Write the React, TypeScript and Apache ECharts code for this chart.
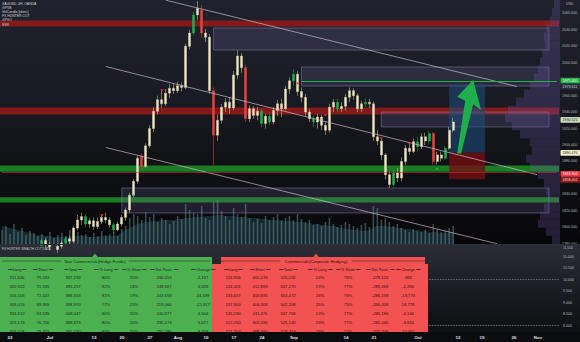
import React, { useEffect, useRef } from "react";
import * as echarts from "echarts";

// ---------- data ----------
// candle: [open, close, low, high]
const candles: number[][] = [
  [1758, 1762, 1754, 1766], [1762, 1765, 1758, 1769], [1765, 1760, 1756, 1768], [1760, 1768, 1757, 1771],
  [1768, 1771, 1764, 1774], [1771, 1766, 1762, 1774], [1766, 1772, 1763, 1775], [1772, 1769, 1765, 1776],
  [1769, 1774, 1766, 1777], [1774, 1778, 1770, 1779], [1778, 1784, 1775, 1787], [1784, 1779, 1775, 1786],
  [1779, 1776, 1772, 1782], [1776, 1773, 1769, 1779], [1773, 1777, 1769, 1780], [1777, 1781, 1774, 1784],
  [1781, 1786, 1778, 1789], [1786, 1783, 1779, 1790], [1783, 1799, 1781, 1802], [1799, 1809, 1796, 1815],
  [1809, 1813, 1803, 1818], [1813, 1804, 1800, 1816], [1804, 1808, 1799, 1811], [1808, 1801, 1797, 1812],
  [1801, 1807, 1798, 1812], [1807, 1812, 1804, 1816], [1812, 1809, 1805, 1818], [1809, 1803, 1800, 1812],
  [1803, 1797, 1793, 1806], [1797, 1804, 1795, 1807], [1804, 1812, 1801, 1815], [1812, 1821, 1808, 1824],
  [1821, 1839, 1818, 1842], [1839, 1856, 1836, 1859], [1856, 1884, 1853, 1887], [1887, 1874, 1870, 1890],
  [1874, 1899, 1872, 1902], [1899, 1920, 1896, 1924], [1920, 1941, 1916, 1946], [1941, 1955, 1937, 1960],
  [1955, 1950, 1945, 1966], [1950, 1963, 1947, 1968], [1963, 1969, 1957, 1974], [1969, 1966, 1962, 1975],
  [1966, 1972, 1963, 1977], [1972, 1970, 1965, 1976], [1970, 2020, 1968, 2023], [2020, 2036, 2016, 2040],
  [2036, 2058, 2033, 2062], [2058, 2066, 2052, 2075], [2064, 2036, 2030, 2070], [2036, 2031, 2025, 2041],
  [2031, 1966, 1962, 2035], [1966, 1912, 1876, 1970], [1912, 1930, 1905, 1937], [1930, 1946, 1926, 1950],
  [1946, 1952, 1940, 1957], [1952, 1945, 1938, 1958], [1945, 1985, 1942, 1990], [1985, 2008, 1980, 2015],
  [2008, 1994, 1988, 2012], [1994, 1932, 1928, 1998], [1932, 1944, 1928, 1948], [1944, 1936, 1932, 1947],
  [1936, 1941, 1930, 1946], [1941, 1926, 1922, 1944], [1926, 1935, 1920, 1938], [1935, 1928, 1924, 1940],
  [1928, 1942, 1925, 1946], [1942, 1950, 1935, 1955], [1950, 1944, 1934, 1956], [1944, 1968, 1942, 1972],
  [1968, 1978, 1962, 1982], [1978, 1986, 1972, 1992], [1986, 1965, 1960, 1990], [1965, 1958, 1952, 1970],
  [1958, 1940, 1935, 1962], [1940, 1932, 1928, 1944], [1932, 1928, 1922, 1936], [1928, 1934, 1920, 1938],
  [1934, 1924, 1918, 1937], [1924, 1918, 1912, 1928], [1918, 1946, 1915, 1950], [1946, 1952, 1940, 1956],
  [1952, 1944, 1940, 1956], [1944, 1947, 1940, 1952], [1947, 1958, 1942, 1962], [1958, 1966, 1952, 1970],
  [1966, 1960, 1955, 1969], [1960, 1944, 1940, 1963], [1944, 1950, 1940, 1954], [1950, 1952, 1946, 1957],
  [1952, 1950, 1945, 1956], [1950, 1910, 1905, 1953], [1910, 1905, 1900, 1918], [1905, 1888, 1882, 1908],
  [1888, 1864, 1858, 1890], [1864, 1852, 1848, 1868], [1852, 1866, 1849, 1870], [1866, 1860, 1855, 1872],
  [1860, 1880, 1856, 1885], [1880, 1896, 1876, 1900], [1896, 1892, 1888, 1902], [1892, 1904, 1890, 1908],
  [1904, 1898, 1892, 1910], [1898, 1910, 1895, 1914], [1910, 1905, 1900, 1915], [1905, 1914, 1902, 1917],
  [1914, 1880, 1876, 1916], [1880, 1888, 1876, 1892], [1888, 1884, 1880, 1892], [1884, 1896, 1882, 1899],
  [1896, 1918, 1894, 1922], [1918, 1928, 1915, 1933],
];
const greenBars = [10, 16, 21, 28, 48, 65, 67, 73, 78, 84, 91, 98, 104, 107, 111];
const redBars = [35, 50, 53, 61, 108];

const volumes = [
  14, 18, 10, 20, 12, 16, 9, 13, 11, 8,
  10, 7, 12, 6, 9, 11, 8, 14, 16, 12, 9, 10, 7, 11, 8, 13, 9, 10, 12, 8,
  15, 18, 26, 30, 28, 24, 32, 27, 30, 22, 26, 24, 20, 23, 28, 25, 40, 34, 31, 30, 38, 26, 24, 42,
  44, 33, 28, 24, 36, 30, 27, 40, 26, 22, 25, 21, 28, 24, 27, 30, 23, 26, 28, 24,
  30, 25, 22, 24, 19, 20, 18, 22, 26, 20, 17, 19, 22, 20, 18, 16, 19, 21, 17, 38,
  36, 24, 26, 22, 18, 20, 16, 14, 12, 15, 13, 12, 14, 11, 20, 15, 12, 13, 16, 18,
];
const volumeAvg = [
  18, 17, 16, 15, 14, 13, 12, 11, 10, 9,
  9, 8, 8, 7, 7, 7, 7, 7, 8, 8, 8, 8, 7, 7, 7, 8, 8, 8, 8, 9,
  12, 14, 16, 18, 20, 21, 22, 22, 23, 23, 24, 24, 24, 24, 25, 25, 26, 26, 27, 27, 27, 28, 28, 28,
  29, 29, 28, 28, 28, 27, 27, 27, 26, 26, 26, 25, 25, 24, 24, 24, 24, 23, 23, 22,
  22, 22, 21, 21, 20, 20, 19, 19, 18, 18, 17, 16, 15, 15, 14, 14, 13, 13, 14, 16,
  18, 18, 18, 17, 17, 16, 16, 15, 15, 14, 14, 13, 13, 12, 12, 12, 11, 11, 11, 11,
];

// volume profile (price bins of 10, from 1780 upwards)
const profileBins = Array.from({ length: 30 }, (_, i) => String(1780 + i * 10));
const profileVolume = [8, 14, 22, 20, 16, 12, 14, 16, 22, 30, 34, 28, 30, 40, 48, 55, 52, 44, 36, 30, 26, 22, 20, 18, 15, 16, 14, 10, 8, 6];

const dateLabels = ["22", "Jul", "13", "20", "27", "Aug", "10", "17", "24", "Sep", "14", "21", "Oct", "12", "19", "26", "Nov"];
const labelBars = [2, 12, 23, 30, 37, 44, 51, 58, 65, 73, 86, 93, 104, 114, 120, 128, 134];
const barCount = 140;

const priceTicks = [1780, 1800, 1820, 1840, 1880, 1900, 1920, 1940, 1960, 2000, 2020, 2040, 2060];
const cotTicks = [8, 8.5, 9, 9.5, 10, 10.5, 11];
const cotTopTick = 11.5;

// zones [low, high]
const resistanceZones = [[2044.1, 2051.4], [1937, 1945.5]];
const supportZones = [[1867.5, 1875], [1830, 1836.5]];
// boxes [startBar, endBar, top, bottom]
const boxes = [[53, 137, 2042.2, 2015.4], [75, 137, 1994.8, 1971.7], [95, 137, 1940.1, 1921.9], [30, 137, 1847.8, 1817.4]];
// trend lines [bar1, price1, bar2, price2]
const trendLines = [[41, 2076, 129, 1971], [26, 1995.4, 134, 1864], [26, 1897, 124, 1780]];
const targetLine = [75, 1978];
const stopLineLevel = 1867;
// long position tool
const entryBar = 112, exitBar = 121;
const entryPrice = 1890.47, targetPrice = 1973.611, stopPrice = 1858.401;
const arrowPoints = [[113.7, 1889.7], [116.3, 1953.8], [114.3, 1958.7], [118.3, 1979], [119.9, 1942.5], [117.8, 1949.4], [114.5, 1889.7]];

const redDots = [[40, 1966.8], [25, 1815], [74, 1975], [81, 1936.5], [95, 1908.5], [102, 1902.4]];
const greenDots = [[109, 1871], [33, 1839]];

const levelPrices = [1975.405, 1973.611, 1930.521, 1890.47, 1863.904, 1858.401];
const levelBg = ["#22b447", "#2a2e39", "#c9d9b8", "#f3efcc", "#f23645", "#8e1b1b"];
const levelFg = ["#ffffff", "#c9ccd4", "#1e1e1e", "#1e1e1e", "#ffffff", "#f3d6d6"];

const legendLines = ["XAUUSD, 4H, OANDA", "GPVB", "VolCandle [sbtnc]", "FX HUNTER COT", "GPVO", "SSR"];

const cotHeaders = ["Long", "Short", "Total", "% Long", "% Short", "Net Posit.", "Change"];
const nonCommRows = [
  ["311,646", "75,593", "387,239", "80%", "20%", "236,053", "2,197"],
  ["320,922", "72,335", "393,257", "82%", "18%", "248,587", "4,928"],
  ["316,106", "72,447", "388,553", "81%", "19%", "243,659", "24,599"],
  ["309,015", "89,955", "398,970", "77%", "23%", "219,060", "-21,917"],
  ["324,512", "83,535", "408,047", "80%", "20%", "240,977", "4,504"],
  ["313,173", "76,700", "389,873", "80%", "20%", "236,473", "5,677"],
  ["306,118", "75,321", "381,440", "80%", "20%", "230,796", "9,758"],
];
const commRows = [
  ["123,956", "402,076", "526,032", "24%", "76%", "-278,120", "-865"],
  ["124,401", "412,869", "537,270", "23%", "77%", "-288,468", "-2,290"],
  ["133,637", "419,835", "553,472", "24%", "76%", "-286,198", "-19,770"],
  ["137,900", "404,308", "542,208", "25%", "75%", "-266,408", "18,778"],
  ["126,290", "411,476", "537,766", "23%", "77%", "-285,186", "-4,146"],
  ["122,050", "403,090", "525,140", "23%", "77%", "-281,040", "-3,634"],
  ["121,254", "398,460", "519,714", "23%", "77%", "-277,206", "-10,961"],
];

// ---------- component ----------
const FONT = "'Liberation Sans', Arial, sans-serif";

export default function App() {
  const ref = useRef<HTMLDivElement>(null);
  useEffect(() => {
    if (!ref.current) return;
    const chart = echarts.init(ref.current, null, { renderer: "svg", width: 580, height: 342 });

    const categories = Array.from({ length: barCount }, (_, i) => {
      const k = labelBars.indexOf(i);
      return k >= 0 ? dateLabels[k] : "b" + i;
    });

    const CREAM = "#eee6c3";
    const candleData = candles.map((c, i) => {
      let col = "";
      if (greenBars.includes(i)) col = "#1fae4b";
      if (redBars.includes(i)) col = "#e8413c";
      return col
        ? { value: c, itemStyle: { color: col, color0: col, borderColor: col, borderColor0: col } }
        : { value: c };
    });

    const markAreas: any[] = [];
    resistanceZones.forEach((z) =>
      markAreas.push([{ yAxis: z[1], itemStyle: { color: "rgba(160,26,26,0.78)" } }, { yAxis: z[0] }])
    );
    supportZones.forEach((z) =>
      markAreas.push([{ yAxis: z[1], itemStyle: { color: "rgba(28,145,38,0.85)" } }, { yAxis: z[0] }])
    );
    boxes.forEach((b) =>
      markAreas.push([
        { coord: [b[0], b[2]], itemStyle: { color: "rgba(120,110,175,0.2)", borderColor: "rgba(160,150,200,0.5)", borderWidth: 0.8 } },
        { coord: [b[1], b[3]] },
      ])
    );
    markAreas.push([{ coord: [entryBar, targetPrice], itemStyle: { color: "rgba(30,78,125,0.55)" } }, { coord: [exitBar, entryPrice] }]);
    markAreas.push([{ coord: [entryBar, entryPrice], itemStyle: { color: "rgba(115,14,20,0.8)" } }, { coord: [exitBar, stopPrice] }]);

    const lines: any[] = trendLines.map((t) => [{ coord: [t[0], t[1]] }, { coord: [t[2], t[3]] }]);
    lines.push([
      { coord: [targetLine[0], targetLine[1]], lineStyle: { color: "#1fb23e", width: 1.1 } },
      { coord: [barCount - 1, targetLine[1]] },
    ]);
    lines.push([
      { coord: [0, stopLineLevel], lineStyle: { color: "rgba(220,50,50,0.8)", width: 0.7 } },
      { coord: [barCount - 1, stopLineLevel] },
    ]);

    const axisText = { color: "#b2b5be", fontSize: 3.6, fontFamily: FONT };

    chart.setOption({
      animation: false,
      backgroundColor: "transparent",
      textStyle: { fontFamily: FONT },
      grid: [
        { left: 0, top: 0, width: 560, height: 244 },
        { left: 0, top: 245, width: 560, height: 87 },
        { left: 500, top: -2.9, width: 60, height: 246.9 },
      ],
      xAxis: [
        { type: "category", gridIndex: 0, data: categories, show: false },
        {
          type: "category", gridIndex: 1, data: categories,
          axisLine: { show: false }, axisTick: { show: false }, splitLine: { show: false },
          axisLabel: { interval: (i: number) => labelBars.includes(i), color: "#e0e3eb", fontSize: 4.4, fontWeight: "bold", margin: 3.5, fontFamily: FONT },
        },
        { type: "value", gridIndex: 2, min: 0, max: 60, inverse: true, show: false },
      ],
      yAxis: [
        {
          type: "value", gridIndex: 0, min: 1779.7, max: 2076.2, position: "right",
          splitLine: { show: false }, axisLine: { show: false }, axisTick: { show: false },
          axisLabel: { ...axisText, margin: 3, customValues: priceTicks, formatter: (v: number) => v.toFixed(3) },
        },
        { type: "value", gridIndex: 0, min: 0, max: 244, show: false },
        {
          type: "value", gridIndex: 1, min: 7.726, max: 11.509, position: "right",
          splitLine: { show: false }, axisLine: { show: false }, axisTick: { show: false },
          axisLabel: { ...axisText, margin: 3, customValues: cotTicks, formatter: (v: number) => v.toFixed(3) },
        },
        { type: "category", gridIndex: 2, data: profileBins, show: false },
      ],
      series: [
        {
          type: "line", xAxisIndex: 0, yAxisIndex: 0, data: [], z: 1, silent: true,
          markArea: { silent: true, label: { show: false }, data: markAreas },
        },
        {
          type: "bar", xAxisIndex: 2, yAxisIndex: 3, data: profileVolume, z: 1, silent: true,
          barCategoryGap: "0%", itemStyle: { color: "rgba(110,90,175,0.27)" },
        },
        {
          type: "line", xAxisIndex: 0, yAxisIndex: 1, data: volumeAvg, z: 2, silent: true, smooth: true,
          showSymbol: false, lineStyle: { width: 0 }, areaStyle: { color: "rgba(38,88,98,0.6)" },
        },
        {
          type: "bar", xAxisIndex: 0, yAxisIndex: 1, data: volumes, z: 2, silent: true,
          barWidth: 1.6, itemStyle: { color: "rgba(120,150,160,0.45)" },
        },
        {
          type: "line", xAxisIndex: 0, yAxisIndex: 0, data: [], z: 3, silent: true,
          markLine: {
            silent: true, symbol: ["none", "none"], label: { show: false },
            lineStyle: { color: "rgba(210,190,210,0.75)", width: 0.9, type: "solid" },
            data: lines,
          },
        },
        {
          type: "candlestick", xAxisIndex: 0, yAxisIndex: 0, data: candleData, z: 4, silent: true,
          barWidth: 2.4,
          itemStyle: { color: CREAM, color0: CREAM, borderColor: "#d8cfa8", borderColor0: "#d8cfa8", borderWidth: 0.5 },
        },
        {
          type: "scatter", xAxisIndex: 0, yAxisIndex: 0, z: 5, silent: true, symbol: "rect", symbolSize: 2,
          data: [
            ...redDots.map((d) => ({ value: d, itemStyle: { color: "#ff3030" } })),
            ...greenDots.map((d) => ({ value: d, itemStyle: { color: "#22c55e" } })),
          ],
        },
        {
          type: "custom", xAxisIndex: 0, yAxisIndex: 0, z: 6, silent: true, data: [0],
          renderItem: (_p: any, api: any) => ({
            type: "polygon",
            shape: { points: arrowPoints.map((pt) => api.coord(pt)) },
            style: { fill: "#1fae4b" },
          }),
        },
        {
          type: "line", xAxisIndex: 1, yAxisIndex: 2, data: [], z: 1, silent: true,
          markLine: {
            silent: true, symbol: ["none", "none"], label: { show: false },
            lineStyle: { color: "#8d9099", width: 0.8, type: "dotted" },
            data: [{ yAxis: 10 }, { yAxis: 8 }],
          },
        },
      ],
    });

    // ---------- overlays: price labels, tables, legend ----------
    const g: any[] = [];
    const lv = levelPrices.map((p, k) => ({ k, y: chart.convertToPixel({ yAxisIndex: 0 } as any, p) as number }));
    lv.sort((a, b) => a.y - b.y);
    for (let it = 0; it < 4; it++) {
      for (let j = 1; j < lv.length; j++) {
        const d = lv[j].y - lv[j - 1].y;
        if (d < 6) {
          const s = (6 - d) / 2;
          lv[j - 1].y -= s;
          lv[j].y += s;
        }
      }
    }
    lv.forEach(({ k, y }) => {
      g.push({ type: "rect", z: 120, silent: true, shape: { x: 560.5, y: y - 2.9, width: 19.5, height: 5.8, r: 0.8 }, style: { fill: levelBg[k] } });
      g.push({ type: "text", z: 121, silent: true, x: 562.5, y, style: { text: levelPrices[k].toFixed(3), fill: levelFg[k], fontSize: 3.6, fontFamily: FONT, verticalAlign: "middle" } });
    });

    // top label of the COT scale, nudged below the price-scale bottom label
    const topTickY = chart.convertToPixel({ yAxisIndex: 2 } as any, cotTopTick) as number;
    g.push({ type: "text", z: 121, silent: true, x: 563, y: Math.max(topTickY, 247.6), style: { text: cotTopTick.toFixed(3), fill: "#b2b5be", fontSize: 3.3, fontFamily: FONT, verticalAlign: "middle" } });

    g.push({ type: "text", z: 121, silent: true, x: 566, y: 4, style: { text: "USD", fill: "#b2b5be", fontSize: 3.5, fontFamily: FONT, verticalAlign: "middle" } });
    g.push({ type: "line", z: 50, silent: true, shape: { x1: 0, y1: 244.5, x2: 580, y2: 244.5 }, style: { stroke: "#2c2f38", lineWidth: 1 } });

    legendLines.forEach((t, i) =>
      g.push({ type: "text", z: 121, silent: true, x: 2, y: 4 + i * 4.1, style: { text: t, fill: "#d1d4dc", fontSize: 3.4, fontFamily: FONT, verticalAlign: "middle" } })
    );
    g.push({ type: "text", z: 121, silent: true, x: 2, y: 248.5, style: { text: "FX HUNTER WEALTH COT DATA", fill: "#c0c3cb", fontSize: 3.2, fontFamily: FONT, verticalAlign: "middle" } });

    // tables
    const drawTable = (
      title: string, rows: string[][], colX: number[], titleX: number, left: number, right: number, color: string, ink: string
    ) => {
      const t = { fontSize: 4.2, fontFamily: FONT, fill: ink, align: "center", verticalAlign: "middle" };
      g.push({ type: "polygon", z: 110, silent: true, shape: { points: [[titleX - 3, 257.2], [titleX, 253.6], [titleX + 3, 257.2]] }, style: { fill: color } });
      const tw = title.length * 2.25;
      g.push({ type: "text", z: 112, silent: true, x: titleX, y: 261, style: { ...t, text: title } });
      g.push({ type: "line", z: 112, silent: true, shape: { x1: left + 2, y1: 261, x2: titleX - tw / 2 - 2, y2: 261 }, style: { stroke: ink, lineWidth: 0.7, opacity: 0.75 } });
      g.push({ type: "line", z: 112, silent: true, shape: { x1: titleX + tw / 2 + 2, y1: 261, x2: right - 2, y2: 261 }, style: { stroke: ink, lineWidth: 0.7, opacity: 0.75 } });
      cotHeaders.forEach((h, c) =>
        g.push({ type: "text", z: 112, silent: true, x: colX[c], y: 269, style: { ...t, fontSize: 3.9, text: "\u2501\u2501 " + h + " \u2501\u2501" } })
      );
      rows.forEach((r, ri) =>
        r.forEach((v, c) =>
          g.push({ type: "text", z: 112, silent: true, x: colX[c], y: 277 + ri * 9, style: { ...t, text: v } })
        )
      );
    };
    g.push({ type: "rect", z: 109, silent: true, shape: { x: 0, y: 257, width: 212, height: 75 }, style: { fill: "#4caf50" } });
    g.push({ type: "rect", z: 109, silent: true, shape: { x: 221, y: 257, width: 204, height: 8 }, style: { fill: "#f25252" } });
    g.push({ type: "rect", z: 109, silent: true, shape: { x: 212, y: 264, width: 216, height: 68 }, style: { fill: "#f25252" } });
    drawTable("Non Commercials(Hedge Funds)", nonCommRows, [17, 43, 73, 106, 134, 164, 203], 95, 0, 212, "#4caf50", "#17301a");
    drawTable("Commercials(Corporate Hedging)", commRows, [233, 260, 288, 320, 348, 380, 408], 316, 212, 428, "#f25252", "#3a1010");

    chart.setOption({ graphic: g });

    return () => chart.dispose();
  }, []);

  return (
    <div
      ref={ref}
      style={{
        position: "fixed", left: 0, top: 0, width: 580, height: 342,
        background:
          "linear-gradient(to bottom, #1f222c 0px, #1a1c24 90px, #111216 160px, #070709 244px, #2a2d36 245px, #1b1d23 290px, #0f1013 332px, #0b0c0e 332px, #0b0c0e 342px)",
      }}
    />
  );
}
